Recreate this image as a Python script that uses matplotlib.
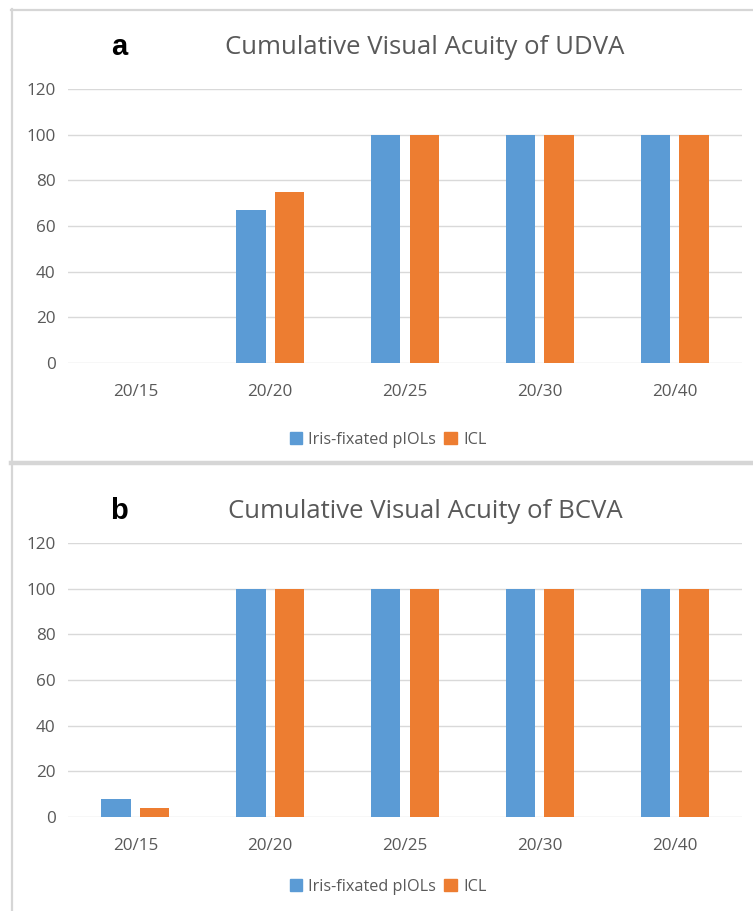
import matplotlib
matplotlib.use("Agg")
import matplotlib.pyplot as plt
import numpy as np
from matplotlib.lines import Line2D
from matplotlib.patches import Patch

# data
categories = ["20/15", "20/20", "20/25", "20/30", "20/40"]
series_names = ["Iris-fixated pIOLs", "ICL"]
udva_iris = [0, 67, 100, 100, 100]
udva_icl = [0, 75, 100, 100, 100]
bcva_iris = [8, 100, 100, 100, 100]
bcva_icl = [4, 100, 100, 100, 100]
y_ticks = [0, 20, 40, 60, 80, 100, 120]

BLUE = "#5B9BD5"
ORANGE = "#ED7D31"
TEXT = "#595959"
GRID = "#D9D9D9"
BORDER = "#D6D6D6"

plt.rcParams["font.family"] = ["Open Sans", "DejaVu Sans"]

W, H = 753, 911
fig = plt.figure(figsize=(W / 100, H / 100), dpi=100)


def fx(px):
    return px / W


def fy(py):
    return 1 - py / H


def draw_panel(top, bottom, title_y, letter, title, iris, icl, legend_y):
    """ One Excel-style clustered bar panel, positioned in pixels. """
    ax = fig.add_axes([fx(68), fy(bottom), fx(742) - fx(68), (bottom - top) / H])
    x = np.arange(len(categories))
    ax.bar(x - 0.143, iris, 0.218, color=BLUE, zorder=3)
    ax.bar(x + 0.143, icl, 0.218, color=ORANGE, zorder=3)
    ax.set_xlim(-0.5, len(categories) - 0.5)
    ax.set_ylim(0, 120)
    ax.set_yticks(y_ticks)
    ax.set_xticks(x)
    ax.set_xticklabels(categories)
    ax.grid(axis="y", color=GRID, linewidth=1.0, zorder=0)
    ax.set_axisbelow(True)
    for s in ax.spines.values():
        s.set_visible(False)
    ax.tick_params(axis="y", length=0, pad=9, labelsize=12.3, labelcolor=TEXT)
    ax.tick_params(axis="x", length=0, pad=15, labelsize=12.3, labelcolor=TEXT)

    fig.text(fx(425), fy(title_y), title, ha="center", va="center",
             fontsize=18.5, color=TEXT)
    fig.text(fx(119), fy(title_y), letter, ha="center", va="center",
             fontsize=21, fontweight="bold", color="black",
             family=["Liberation Sans", "DejaVu Sans"])

    handles = [Patch(color=BLUE), Patch(color=ORANGE)]
    fig.legend(handles, series_names, loc="center",
               bbox_to_anchor=(fx(388), fy(legend_y)), ncol=2, frameon=False,
               handlelength=0.75, handleheight=0.75, handletextpad=0.4,
               columnspacing=0.5, fontsize=11.7, labelcolor=TEXT)
    return ax


draw_panel(89, 363, 47, "a", "Cumulative Visual Acuity of UDVA",
           udva_iris, udva_icl, 440)
draw_panel(543, 817, 511, "b", "Cumulative Visual Acuity of BCVA",
           bcva_iris, bcva_icl, 887)

# chart-area borders like the Excel screenshots
fig.add_artist(Line2D([fx(11.5), fx(11.5)], [fy(9), fy(911)],
                      color=BORDER, linewidth=1.6))
fig.add_artist(Line2D([fx(11), 1], [fy(9.5), fy(9.5)],
                      color=BORDER, linewidth=1.6))
fig.add_artist(Line2D([fx(11), 1], [fy(463), fy(463)],
                      color=BORDER, linewidth=3.2))

fig.savefig("out.png", dpi=100)
